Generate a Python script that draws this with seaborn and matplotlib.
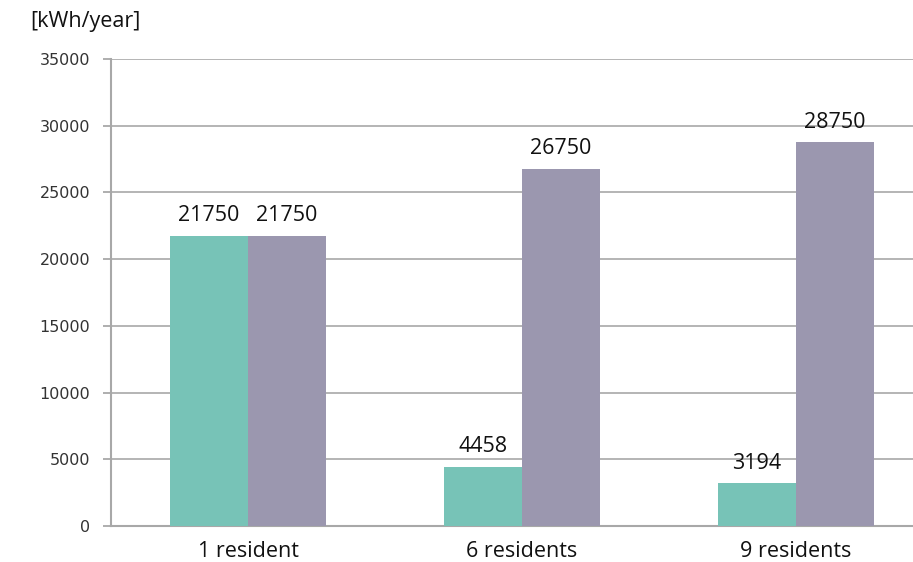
import matplotlib
matplotlib.use("Agg")
import matplotlib.pyplot as plt
import seaborn as sns
import pandas as pd

categories = ["1 resident", "6 residents", "9 residents"]
series_a = [21750, 4458, 3194]
series_b = [21750, 26750, 28750]
series_names = ["A", "B"]
y_ticks = [0, 5000, 10000, 15000, 20000, 25000, 30000, 35000]

df = pd.DataFrame({
    "category": categories * 2,
    "value": series_a + series_b,
    "series": [series_names[0]] * 3 + [series_names[1]] * 3,
})

sns.set_theme(style="white")
plt.rcParams["font.family"] = ["Open Sans", "DejaVu Sans"]

fig = plt.figure(figsize=(9.13, 5.62), dpi=100)
ax = fig.add_axes([111 / 913, 1 - 526 / 562, 822 / 913, (526 - 59) / 562])

palette = {"A": "#77c3b7", "B": "#9b97af"}
sns.barplot(data=df, x="category", y="value", hue="series", palette=palette,
            width=0.57, saturation=1, ax=ax, legend=False, zorder=3,
            edgecolor="none", linewidth=0)

ax.set_xlim(-0.5, 2.5)
ax.set_ylim(0, 35000)
ax.set_yticks(y_ticks)
ax.set_yticklabels([str(t) for t in y_ticks], fontsize=11.5, color="#333333",
                   fontfamily="DejaVu Sans")
ax.yaxis.grid(True, color="#a8a8a8", linewidth=1.2, zorder=0)
ax.set_axisbelow(True)

# category labels under each group, boundary ticks between them
ax.set_xticks([0.5, 1.5, 2.5])
ax.set_xticklabels([])
ax.set_xticks([0, 1, 2], minor=True)
ax.set_xticklabels(categories, minor=True, fontsize=15.5, color="#111111")
ax.tick_params(axis="x", which="minor", length=0, pad=11)
ax.tick_params(axis="x", which="major", length=5, color="#a8a8a8", width=1.3, direction="out")
ax.tick_params(axis="y", length=6, color="#a8a8a8", width=1.3, direction="out", pad=9, left=True)

for side in ["top", "right"]:
    ax.spines[side].set_visible(False)
for side in ["left", "bottom"]:
    ax.spines[side].set_color("#a8a8a8")
    ax.spines[side].set_linewidth(1.5)

ax.set_xlabel("")
ax.set_ylabel("")

for container in ax.containers:
    ax.bar_label(container, labels=[str(int(v)) for v in container.datavalues],
                 padding=7, fontsize=15.5, color="#111111")

fig.text(30 / 913, 1 - 22 / 562, "[kWh/year]", fontsize=15.5, color="#111111",
         ha="left", va="center")

fig.savefig("out.png", dpi=100)
